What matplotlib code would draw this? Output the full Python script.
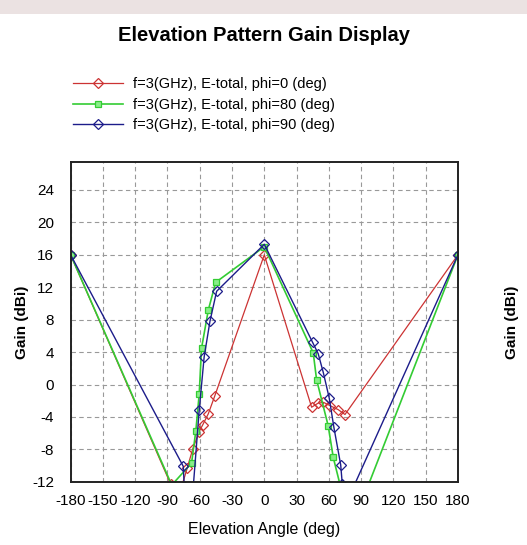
import matplotlib.pyplot as plt
import matplotlib.patches as mpatches
import numpy as np

plt.rcParams['font.family'] = ['Liberation Sans', 'DejaVu Sans']
plt.rcParams['axes.unicode_minus'] = False

# elevation angle (deg) / gain (dBi) for each cut
ang_phi0 = [-180, -87, -80, -71.6, -66.6, -60.5, -57.3, -52, -46, 0,
            44, 50, 55, 61, 68.7, 75, 180]
gain_phi0 = [16, -12.3, -14, -10.3, -8.0, -5.8, -5.0, -3.6, -1.4, 16,
             -2.8, -2.3, -2.2, -2.6, -3.1, -3.7, 16]

ang_phi80 = [-180, -86, -67.6, -63.6, -60.5, -58.3, -52, -45.2, 0,
             45.5, 48.6, 59.4, 64.1, 70.3, 90, 180]
gain_phi80 = [16, -12.4, -9.7, -5.7, -1.2, 4.5, 9.2, 12.6, 17.0,
              3.9, 0.6, -5.1, -9.0, -12.3, -14.7, 16]

ang_phi90 = [-180, -75.3, -74.4, -68, -60.5, -55.9, -50.5, -44.3, 0,
             44.9, 50.1, 54.8, 60.4, 64.7, 71, 72.5, 80, 180]
gain_phi90 = [16, -10.1, -12.5, -16, -3.2, 3.4, 7.8, 11.5, 17.3,
              5.2, 3.8, 1.5, -1.7, -5.3, -9.9, -12.3, -13.5, 16]

labels = ['f=3(GHz), E-total, phi=0 (deg)',
          'f=3(GHz), E-total, phi=80 (deg)',
          'f=3(GHz), E-total, phi=90 (deg)']

xticks = np.arange(-180, 181, 30)
yticks = np.arange(-12, 25, 4)

fig = plt.figure(figsize=(5.27, 5.45), dpi=100, facecolor='white')
ax = fig.add_axes([0.134, 0.116, 0.735, 0.586])

# faint band across the top edge
fig.patches.append(mpatches.Rectangle((0, 0.975), 1, 0.025, transform=fig.transFigure,
                                      facecolor='#ebe2e2', edgecolor='none', zorder=0))

l1, = ax.plot(ang_phi0, gain_phi0, color='#cc3333', lw=0.9, marker='D', ms=5,
              mfc='none', mec='#cc3333', mew=0.9, label=labels[0])
l2, = ax.plot(ang_phi80, gain_phi80, color='#33cc33', lw=1.2, marker='s', ms=5,
              mfc='#88ee88', mec='#33cc33', mew=0.9, label=labels[1])
l3, = ax.plot(ang_phi90, gain_phi90, color='#1c1c8a', lw=1.0, marker='D', ms=5,
              mfc='none', mec='#1c1c8a', mew=0.9, label=labels[2])

ax.set_xlim(-180, 180)
ax.set_ylim(-12, 27.4)
ax.set_xticks(xticks)
ax.set_yticks(yticks)
ax.tick_params(length=0, labelsize=11)
ax.tick_params(axis='x', pad=9)
ax.tick_params(axis='y', left=True, right=True, labelright=True)
ax.yaxis.set_tick_params(which='major', pad=12)
for t in ax.yaxis.get_major_ticks():
    t.tick2line.set_visible(False)
ax.grid(True, color='#999999', linestyle=(0, (4, 3)), linewidth=0.8)
for s in ax.spines.values():
    s.set_linewidth(1.4)
    s.set_color('#222222')

ax.set_xlabel('Elevation Angle (deg)', fontsize=11.5, labelpad=10)
ax.set_ylabel('Gain (dBi)', fontsize=11, fontweight='bold', labelpad=2)
ax2 = ax.twinx()
ax2.set_ylim(ax.get_ylim())
ax2.set_yticks([])
ax2.set_ylabel('Gain (dBi)', fontsize=11, fontweight='bold', labelpad=34)
ax2.yaxis.set_label_position('right')
for s in ax2.spines.values():
    s.set_visible(False)

fig.text(0.5, 0.935, 'Elevation Pattern Gain Display', ha='center', va='center',
         fontsize=14.5, fontweight='bold')

fig.legend(handles=[l1, l2, l3], loc='upper left', bbox_to_anchor=(0.125, 0.872),
           frameon=False, fontsize=10.5, handlelength=3.4, handletextpad=0.7,
           labelspacing=0.45, borderpad=0)

fig.savefig('out.png', dpi=100)
